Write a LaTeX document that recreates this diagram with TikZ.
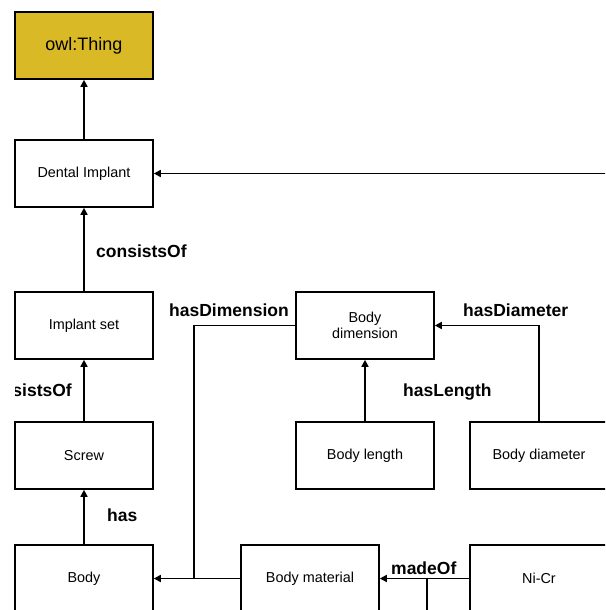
\documentclass[tikz,border=0pt]{standalone}
\usepackage{fontspec}
\setmainfont{Liberation Sans}
\usetikzlibrary{arrows.meta}
\definecolor{thingyellow}{RGB}{217,186,38}
\begin{document}
\begin{tikzpicture}[x=1pt,y=-1pt,
  box/.style={draw,line width=1.6pt,minimum width=138pt,minimum height=67pt,inner sep=0pt,font=\fontsize{14.4}{16.5}\selectfont,align=center},
  rel/.style={font=\bfseries\fontsize{17.5}{20}\selectfont,inner sep=0pt},
  link/.style={line width=1.6pt,-{Triangle[length=7pt,width=7pt]}},
  plain/.style={line width=1.6pt}]
\useasboundingbox (0,0) rectangle (605,610);
\clip (0,0) rectangle (605,610);
% nodes
\node[box,fill=thingyellow,font=\fontsize{18}{20}\selectfont] (thing) at (84,45.5) {owl:Thing};
\node[box] (dental) at (84,173.5) {Dental Implant};
\node[box] (implantset) at (84,325.5) {Implant set};
\node[box] (screw) at (84,455.5) {Screw};
\node[box] (body) at (84,578.5) {Body};
\node[box] (material) at (310,578.5) {Body material};
\node[box] (nicr) at (539,578.5) {Ni-Cr};
\node[box] (bdim) at (365,325.5) {Body\\dimension};
\node[box] (blen) at (365,455.5) {Body length};
\node[box] (bdia) at (539,455.5) {Body diameter};
% free ends
\coordinate (rin) at (610,173.5);
\coordinate (j1) at (194,578.5);
\coordinate (j2) at (427,578.5);
\coordinate (j3) at (427,615);
% connectors
\draw[link] (dental) -- (thing);
\draw[link] (rin) -- (dental);
\draw[link] (implantset) -- (dental);
\draw[link] (screw) -- (implantset);
\draw[link] (body) -- (screw);
\draw[link] (material) -- (body);
\draw[link] (nicr) -- (material);
\draw[link] (blen) -- (bdim);
\draw[link] (bdia.north) |- (bdim.east);
\draw[plain] (j1) |- (bdim.west);
\draw[plain] (j2) -- (j3);
% labels
\node[rel,anchor=west] (l1) at (96,251) {consistsOf};
\begin{scope}
  \clip (15,370) rectangle (100,410);
  \node[rel,anchor=east] (l2) at (72,390) {consistsOf};
\end{scope}
\node[rel,anchor=west] (l3) at (107,515) {has};
\node[rel,anchor=east] (l4) at (289,310) {hasDimension};
\node[rel,anchor=west] (l5) at (463,310) {hasDiameter};
\node[rel,anchor=west] (l6) at (403,392) {hasLength};
\node[rel,anchor=west] (l7) at (391,568) {madeOf};
\end{tikzpicture}
\end{document}
